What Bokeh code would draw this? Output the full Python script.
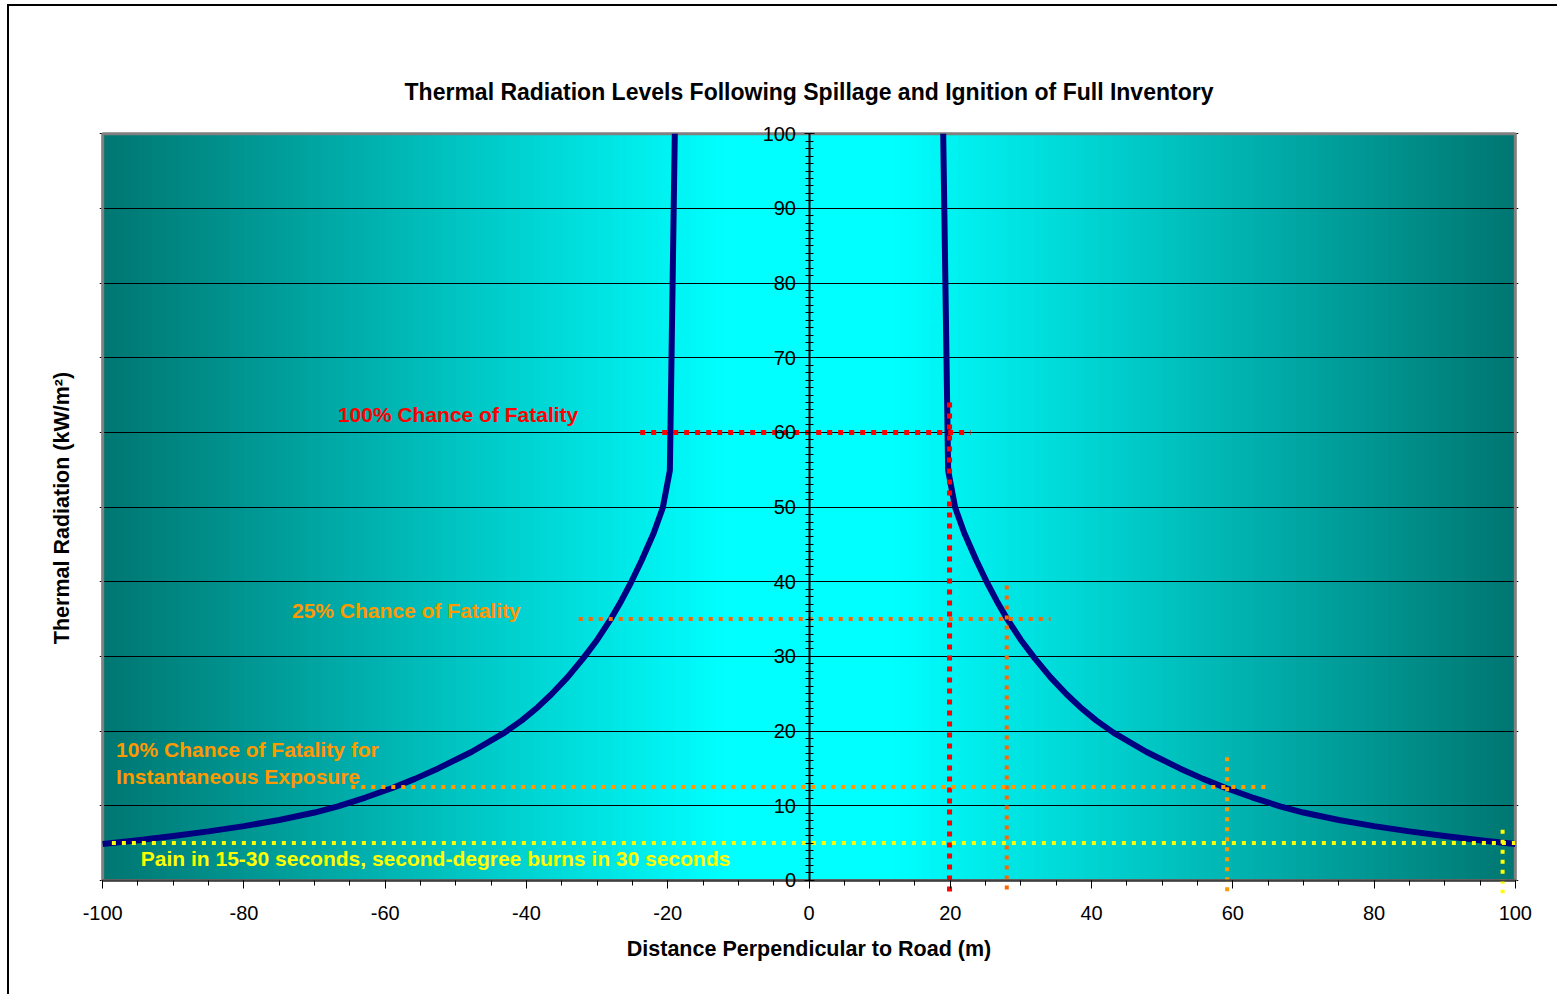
import numpy as np
from bokeh.plotting import figure
from bokeh.models import Range1d, SingleIntervalTicker, Title, Label, LinearAxis, PrintfTickFormatter
from bokeh.embed import file_html
from bokeh.resources import INLINE

# Radiation profile across the road: distance (m) and thermal radiation (kW/m²)
distance_right = [19.0, 19.7, 20.7, 22.0, 23.7, 25.2, 26.6, 28.0, 30.0, 32.0, 34.2, 36.5, 38.4,
                  40.7, 43.1, 47.8, 52.5, 55.8, 59.1, 62.8, 66.7, 70, 75, 80, 85, 90, 95, 100]
radiation_right = [100, 54.9, 49.9, 46.5, 42.85, 39.9, 37.4, 35.1, 32.2, 29.7, 27.2, 24.9, 23.2,
                   21.4, 19.8, 17.2, 15.0, 13.6, 12.35, 11.1, 9.93, 9.09, 8.09, 7.27, 6.57, 5.94,
                   5.39, 4.89]
distance_left = [-100, -95, -90, -85, -80, -75, -70, -66.7, -62.8, -59.1, -55.8, -52.5, -47.8,
                 -43.1, -40.7, -38.4, -36.5, -34.2, -32.0, -30.0, -28.0, -26.6, -25.2, -23.7,
                 -22.0, -20.7, -19.7, -19.0]
radiation_left = [4.89, 5.39, 5.94, 6.57, 7.27, 8.09, 9.09, 9.93, 11.1, 12.35, 13.6, 15.0, 17.2,
                  19.8, 21.4, 23.2, 24.9, 27.2, 29.7, 32.2, 35.1, 37.4, 39.9, 42.85,
                  46.5, 49.9, 54.9, 100]

# Harm thresholds: radiation level, distance at which it is reached,
# extent of the horizontal marker and top of the vertical marker
threshold_kw = [60, 35, 12.5, 5]
threshold_dist = [19.9, 28, 59.2, 98.2]
marker_from = [-23.9, -32.6, -64.8, -98.7]
marker_to = [22.9, 34.2, 64.8, 100]
marker_top = [64, 39.5, 16.5, 6.8]
threshold_text = [
    ["100% Chance of Fatality"],
    ["25% Chance of Fatality"],
    ["10% Chance of Fatality for", "Instantaneous Exposure"],
    ["Pain in 15-30 seconds, second-degree burns in 30 seconds"],
]

x_ticks_step = 20
y_ticks_step = 10

line_colors = ["#FF0000", "#FF6600", "#FF9900", "#FFFF00"]
text_colors = ["#FF0000", "#FF9900", "#FF9900", "#FFFF00"]
dot_width = [5, 4, 4, 4]
dot_dash = ["5 6", "4 6", "4 6", "4 6"]
text_pos = [
    [(-66.7, 62.4)],
    [(-73.2, 36.1)],
    [(-98.1, 17.5), (-98.1, 13.9)],
    [(-94.6, 2.9)],
]

FONT = "Liberation Sans"
Y_MIN, Y_MAX = -1.75, 101.5
X_PAD = 0.45

p = figure(
    width=1550, height=990,
    x_range=Range1d(-100 - X_PAD, 100 + X_PAD), y_range=Range1d(Y_MIN, Y_MAX),
    output_backend="svg", toolbar_location=None,
    min_border_left=90, min_border_right=41, min_border_top=116, min_border_bottom=103,
    background_fill_color="white", border_fill_color="white",
)
p.styles = {"margin-left": "7px", "margin-top": "4px",
            "border-top": "2px solid black", "border-left": "2px solid black"}
p.outline_line_color = None

p.title.text = "Thermal Radiation Levels Following Spillage and Ignition of Full Inventory"
p.title.align = "center"
p.title.text_font = FONT
p.title.text_font_size = "23px"
p.title.text_font_style = "bold"
p.title.text_color = "black"
p.title.standoff = 36

p.add_layout(Title(text="Thermal Radiation (kW/m²)", align="center", text_font=FONT,
                   text_font_size="21.5px", text_font_style="bold", text_color="black",
                   standoff=52), "left")

# horizontal colour ramp: teal at the edges, cyan towards the road
edges = np.linspace(-100, 100, 201)
mid = 0.5 * (edges[:-1] + edges[1:])
t = np.clip((np.abs(mid) - 12) / 88.0, 0, 1)
g = (255 - t * (255 - 118)).round().astype(int)
b = (255 - t * (255 - 113)).round().astype(int)
ramp = ["#00%02x%02x" % (gg, bb) for gg, bb in zip(g, b)]
right_edge = np.minimum(edges[1:] + 1.0, 100)
p.quad(left=edges[:-1], right=right_edge, bottom=0, top=100,
       fill_color=ramp, line_color=None, level="image")

# plot-area border
p.quad(left=-100, right=100, bottom=0, top=100, fill_color=None,
       line_color="#808080", line_width=3)

# grid
p.xgrid.visible = False
p.ygrid.ticker = SingleIntervalTicker(interval=y_ticks_step)
p.ygrid.grid_line_color = "black"
p.ygrid.grid_line_width = 1
p.ygrid.bounds = (0, 100)

# radiation curve
p.multi_line(xs=[distance_left, distance_right], ys=[radiation_left, radiation_right],
             line_color="#000080", line_width=6, line_join="round")

# threshold markers and captions
for i in range(len(threshold_kw)):
    p.segment(x0=[marker_from[i]], y0=[threshold_kw[i]], x1=[marker_to[i]], y1=[threshold_kw[i]],
              line_color=line_colors[i], line_width=dot_width[i], line_dash=dot_dash[i],
              line_cap="butt")
    p.segment(x0=[threshold_dist[i]], y0=[marker_top[i]], x1=[threshold_dist[i]], y1=[Y_MIN],
              line_color=line_colors[i], line_width=dot_width[i], line_dash=dot_dash[i],
              line_cap="butt")
    for txt, (lx, ly) in zip(threshold_text[i], text_pos[i]):
        p.add_layout(Label(x=lx, y=ly, text=txt, text_color=text_colors[i],
                           text_font=FONT, text_font_size="21px", text_font_style="bold",
                           text_baseline="middle", text_align="left"))

# x axis line and ticks along radiation = 0
xa = p.xaxis[0]
xa.fixed_location = 0
xa.bounds = (-100, 100)
xa.ticker = SingleIntervalTicker(interval=x_ticks_step, num_minor_ticks=4)
xa.major_label_text_alpha = 0
xa.axis_line_color = "#404040"
xa.axis_line_width = 2
xa.major_tick_in = 0
xa.major_tick_out = 8
xa.minor_tick_in = 0
xa.minor_tick_out = 5
xa.major_tick_line_color = "black"
xa.minor_tick_line_color = "black"

# x tick labels and title under the plot area
xl = LinearAxis(ticker=SingleIntervalTicker(interval=x_ticks_step), bounds=(-100, 100),
                formatter=PrintfTickFormatter(format="%d"))
xl.axis_line_color = None
xl.major_tick_line_color = None
xl.minor_tick_line_color = None
xl.major_tick_in = 0
xl.major_tick_out = 0
xl.major_label_text_font = FONT
xl.major_label_text_font_size = "20px"
xl.major_label_text_color = "black"
xl.major_label_standoff = 8
xl.axis_label = "Distance Perpendicular to Road (m)"
xl.axis_label_text_font = FONT
xl.axis_label_text_font_size = "21.5px"
xl.axis_label_text_font_style = "bold"
xl.axis_label_text_color = "black"
xl.axis_label_standoff = 14
p.add_layout(xl, "below")

# y axis along the road centreline
ya = p.yaxis[0]
ya.fixed_location = 0
ya.bounds = (0, 100)
ya.ticker = SingleIntervalTicker(interval=y_ticks_step, num_minor_ticks=10)
ya.formatter = PrintfTickFormatter(format="%d")
ya.major_label_text_font = FONT
ya.major_label_text_font_size = "20px"
ya.major_label_text_color = "black"
ya.major_label_standoff = 8
ya.axis_line_color = "black"
ya.axis_line_width = 2
ya.major_tick_in = 5
ya.major_tick_out = 5
ya.minor_tick_in = 4
ya.minor_tick_out = 4
ya.major_tick_line_color = "black"
ya.minor_tick_line_color = "black"

open("out.html", "w").write(file_html(p, INLINE))
